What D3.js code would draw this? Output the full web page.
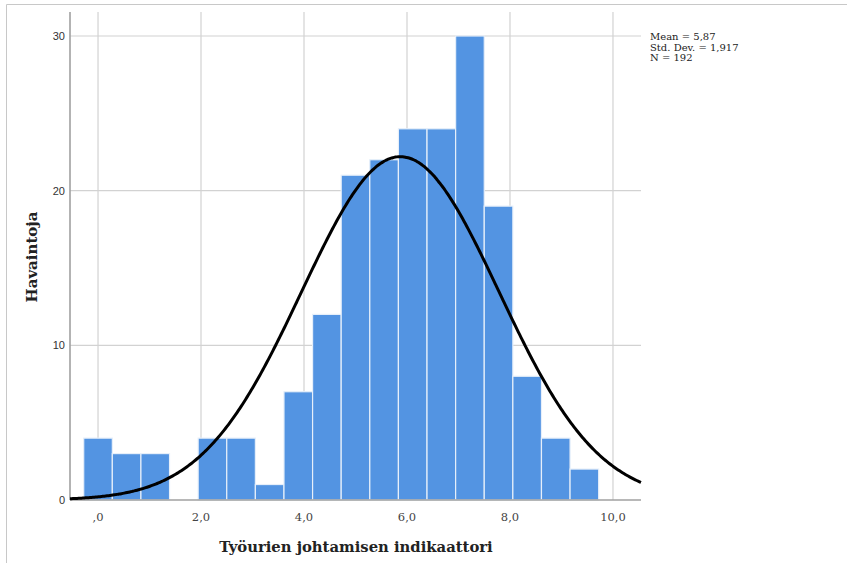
<!DOCTYPE html>
<html><head><meta charset="utf-8">
<script src="https://cdn.jsdelivr.net/npm/d3@7"></script>
<style>body{margin:0;background:#fff}</style>
</head><body>
<svg id="c" width="847" height="563"></svg>
<script>
const binWidth = 10/18;
const binCenters = d3.range(19).map(k => k*binWidth);
const counts = [4,3,3,0,4,4,1,7,12,21,22,24,24,30,19,8,4,2,0];
const xTicks = [0,2,4,6,8,10];
const xTickLabels = [",0","2,0","4,0","6,0","8,0","10,0"];
const yTicks = [0,10,20,30];
const mean = 5.87, sd = 1.917, n = 192;
const statLines = ["Mean = 5,87","Std. Dev. = 1,917","N = 192"];

const svg = d3.select("#c");
// outer frame
svg.append("path").attr("d","M6.5,563 V4.5 H847").attr("fill","none").attr("stroke","#c8c8c8").attr("stroke-width",1);

const L=70, R=641, T=12, B=500;
const x = d3.scaleLinear().domain([-0.544, 10.544]).range([L,R]);
const y = d3.scaleLinear().domain([0, 30]).range([B, 36]);

const g = svg.append("g");
// gridlines
g.selectAll(".vg").data(xTicks).join("line")
 .attr("x1",d=>x(d)).attr("x2",d=>x(d)).attr("y1",T).attr("y2",B)
 .attr("stroke","#d2d2d2").attr("stroke-width",1.2);
g.selectAll(".hg").data(yTicks.filter(d=>d>0)).join("line")
 .attr("x1",L).attr("x2",R).attr("y1",d=>y(d)).attr("y2",d=>y(d))
 .attr("stroke","#d2d2d2").attr("stroke-width",1.2);

// bars
g.selectAll(".bar").data(binCenters.map((c,i)=>({c,v:counts[i]})).filter(d=>d.v>0)).join("rect")
 .attr("x",d=>x(d.c-binWidth/2)).attr("width",d=>x(d.c+binWidth/2)-x(d.c-binWidth/2))
 .attr("y",d=>y(d.v)).attr("height",d=>B-y(d.v))
 .attr("fill","#5394e2").attr("stroke","#e6effa").attr("stroke-width",1.2);

// axes lines
g.append("line").attr("x1",L).attr("x2",L).attr("y1",T).attr("y2",B).attr("stroke","#a0a0a0").attr("stroke-width",1.6);
g.append("line").attr("x1",L).attr("x2",R).attr("y1",B).attr("y2",B).attr("stroke","#a0a0a0").attr("stroke-width",1.6);

// normal curve
const pdf = v => n*binWidth*Math.exp(-0.5*((v-mean)/sd)**2)/(sd*Math.sqrt(2*Math.PI));
const pts = d3.range(0,401).map(i => { const v = -0.544 + i*(11.088/400); return [v, pdf(v)]; });
g.append("path").attr("d", d3.line().x(d=>x(d[0])).y(d=>y(d[1])).curve(d3.curveBasis)(pts))
 .attr("fill","none").attr("stroke","#000").attr("stroke-width",3);

// y tick labels
g.selectAll(".yl").data(yTicks).join("text")
 .attr("x",L-5).attr("y",d=>y(d)+4).attr("text-anchor","end")
 .attr("font-family","Liberation Sans, Arial, sans-serif").attr("font-size",11).attr("fill","#333")
 .text(d=>d);

// x tick labels
g.selectAll(".xl").data(xTicks).join("text")
 .attr("x",(d)=>x(d)).attr("y",B+21).attr("text-anchor","middle")
 .attr("font-family","DejaVu Serif, serif").attr("font-size",11.5).attr("fill","#444")
 .text((d,i)=>xTickLabels[i]);

// axis titles
svg.append("text").attr("x",356).attr("y",552).attr("text-anchor","middle")
 .attr("font-family","DejaVu Serif, serif").attr("font-weight","bold").attr("font-size",14.8).attr("fill","#222")
 .text("Työurien johtamisen indikaattori");
svg.append("text").attr("transform","translate(37,257) rotate(-90)").attr("text-anchor","middle")
 .attr("font-family","DejaVu Serif, serif").attr("font-weight","bold").attr("font-size",15).attr("fill","#222")
 .text("Havaintoja");

// stats
svg.selectAll(".st").data(statLines).join("text")
 .attr("x",650).attr("y",(d,i)=>40+i*10.5)
 .attr("font-family","DejaVu Serif, serif").attr("font-size",10).attr("fill","#222")
 .text(d=>d);
</script>
</body></html>
